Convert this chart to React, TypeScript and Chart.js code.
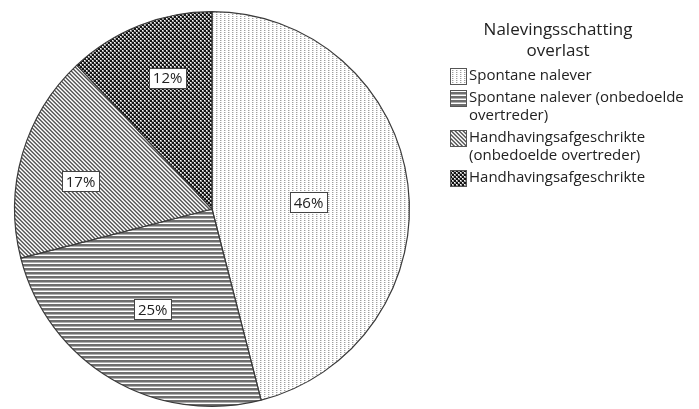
import { useEffect, useRef } from "react";
import { Chart, registerables } from "chart.js";

Chart.register(...registerables);

const categories = [
  "Spontane nalever",
  "Spontane nalever (onbedoelde overtreder)",
  "Handhavingsafgeschrikte (onbedoelde overtreder)",
  "Handhavingsafgeschrikte",
];
const values = [46, 25, 17, 12];
const percentLabels = ["46%", "25%", "17%", "12%"];
const legendTitle = ["Nalevingsschatting", "overlast"];
const legendLines = [
  ["Spontane nalever"],
  ["Spontane nalever (onbedoelde", "overtreder)"],
  ["Handhavingsafgeschrikte", "(onbedoelde overtreder)"],
  ["Handhavingsafgeschrikte"],
];
const patternKinds = ["dots", "hlines", "diag", "checker"];
const labelRadiusFrac = [0.49, 0.59, 0.68, 0.7];
const labelAngleShift = [0.06, 0, -0.08, 0.05];

const FONT = "'Open Sans', 'DejaVu Sans', sans-serif";

function makePattern(kind: string): CanvasPattern | string {
  const c = document.createElement("canvas");
  const size = 4;
  c.width = size;
  c.height = size;
  const ctx = c.getContext("2d");
  if (!ctx) return "#999";
  ctx.fillStyle = "#ffffff";
  ctx.fillRect(0, 0, size, size);
  for (let y = 0; y < size; y++) {
    for (let x = 0; x < size; x++) {
      let col: string | null = null;
      if (kind === "dots") {
        if (x === 0 && y % 2 === 0) col = "#a0a0a0";
        else if (x === 1 && y % 2 === 0) col = "#d8d8d8";
      } else if (kind === "hlines") {
        if (y === 0 || y === 1) col = "#6e6e6e";
        else if (y === 2) col = "#b0b0b0";
      } else if (kind === "diag") {
        const m = (((x - y) % 4) + 4) % 4;
        if (m === 0) col = "#555555";
        else if (m === 1) col = "#8a8a8a";
        else if (m === 3) col = "#cccccc";
      } else if (kind === "checker") {
        const wx = x % 2 === 0 && y % 2 === 0;
        const block = (Math.floor(x / 2) + Math.floor(y / 2)) % 2 === 0;
        if (block && wx) col = "#ffffff";
        else if (block) col = "#9a9a9a";
        else col = "#141414";
      }
      if (col) {
        ctx.fillStyle = col;
        ctx.fillRect(x, y, 1, 1);
      }
    }
  }
  const p = ctx.createPattern(c, "repeat");
  return p || "#999";
}

const labelPlugin = {
  id: "pctLabels",
  afterDatasetsDraw(chart: any) {
    const ctx = chart.ctx;
    const meta = chart.getDatasetMeta(0);
    ctx.save();
    ctx.font = `15px ${FONT}`;
    ctx.textAlign = "center";
    ctx.textBaseline = "middle";
    meta.data.forEach((arc: any, i: number) => {
      const p = arc.getProps(["x", "y", "startAngle", "endAngle", "outerRadius"], true);
      const mid = (p.startAngle + p.endAngle) / 2 + labelAngleShift[i];
      const r = p.outerRadius * labelRadiusFrac[i];
      const cx = p.x + Math.cos(mid) * r;
      const cy = p.y + Math.sin(mid) * r;
      const text = percentLabels[i];
      const w = ctx.measureText(text).width + 8;
      const h = 21;
      ctx.fillStyle = "#ffffff";
      ctx.fillRect(Math.round(cx - w / 2), Math.round(cy - h / 2), Math.round(w), h);
      ctx.strokeStyle = "#444444";
      ctx.lineWidth = 1;
      ctx.strokeRect(Math.round(cx - w / 2) + 0.5, Math.round(cy - h / 2) + 0.5, Math.round(w) - 1, h - 1);
      ctx.fillStyle = "#222222";
      ctx.fillText(text, cx, cy + 1);
    });
    ctx.restore();
  },
};

const legendPlugin = {
  id: "customLegend",
  afterDraw(chart: any) {
    const ctx = chart.ctx;
    const ds = chart.data.datasets[0];
    ctx.save();
    ctx.fillStyle = "#222222";
    ctx.textAlign = "center";
    ctx.textBaseline = "middle";
    ctx.font = `17px ${FONT}`;
    legendTitle.forEach((t, i) => ctx.fillText(t, 558, 30 + i * 21));
    ctx.textAlign = "left";
    ctx.font = `15px ${FONT}`;
    let y = 76;
    legendLines.forEach((lines, i) => {
      ctx.fillStyle = ds.backgroundColor[i];
      ctx.fillRect(450, y - 8, 17, 17);
      ctx.strokeStyle = "#555555";
      ctx.lineWidth = 1;
      ctx.strokeRect(450.5, y - 7.5, 16, 16);
      ctx.fillStyle = "#222222";
      lines.forEach((l, j) => ctx.fillText(l, 469, y + j * 18));
      y += lines.length * 18 + 4;
    });
    ctx.restore();
  },
};

export default function App() {
  const ref = useRef<HTMLCanvasElement | null>(null);
  useEffect(() => {
    if (!ref.current) return;
    const chart = new Chart(ref.current, {
      type: "pie",
      data: {
        labels: categories,
        datasets: [
          {
            data: values,
            backgroundColor: patternKinds.map((k) => makePattern(k)) as any,
            borderColor: "#3a3a3a",
            borderWidth: 1.2,
          },
        ],
      },
      options: {
        responsive: false,
        animation: false,
        layout: { padding: { left: 14, top: 10, right: 289, bottom: 1 } },
        plugins: {
          legend: { display: false },
          tooltip: { enabled: false },
          title: { display: false },
        },
      },
      plugins: [labelPlugin, legendPlugin],
    });
    return () => chart.destroy();
  }, []);
  return (
    <div style={{ position: "absolute", left: 0, top: 0, width: 699, height: 409, background: "#fff" }}>
      <canvas ref={ref} width={699} height={409} style={{ width: 699, height: 409 }} />
    </div>
  );
}
